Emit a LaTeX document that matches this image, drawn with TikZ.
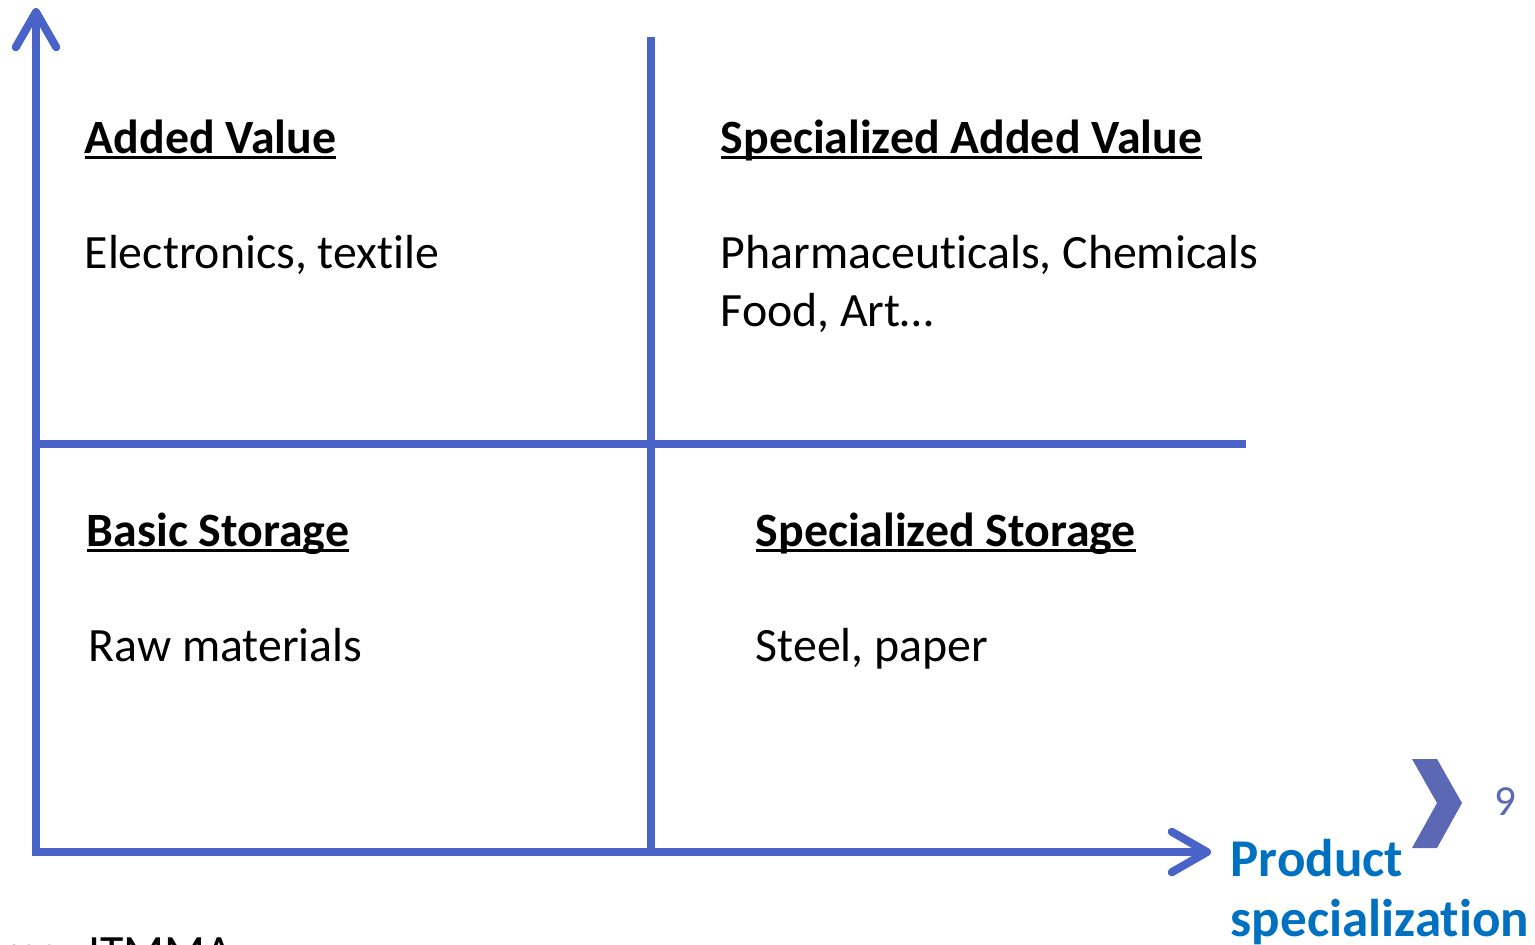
\documentclass[tikz,border=0pt]{standalone}
\usepackage{fontspec}
\setmainfont{Carlito}[Ligatures={NoCommon,NoContextual,NoRare}]
\usepackage{tikz}
\usetikzlibrary{positioning}
\usetikzlibrary{arrows.meta}

\definecolor{axisblue}{HTML}{4A63C8}
\definecolor{labelblue}{HTML}{0070C0}
\definecolor{pageblue}{HTML}{5B69B4}

\newcommand{\titleline}[1]{\setbox0\hbox{#1}\rlap{\rule[-1.6pt]{\wd0}{0.85pt}}#1}
\newcommand{\ti}{t\kern0pt i}

\tikzset{
  axis/.style = {draw = axisblue, line width = 2.3pt},
  axisarrow/.style = {axis, -{Straight Barb[length = 10pt, width = 11.5pt, line cap = round, line join = round]}},
  quadtitle/.style = {draw = none, anchor = base west, inner sep = 0pt, font = \fontsize{13.6}{16}\selectfont\bfseries},
  quadtext/.style = {draw = none, anchor = base west, inner sep = 0pt, font = \fontsize{13.6}{16}\selectfont},
  axislabel/.style = {draw = none, anchor = base west, inner sep = 0pt, text = labelblue, font = \fontsize{15.1}{18}\selectfont\bfseries}
}

\begin{document}
\begin{tikzpicture}[x = 0.01cm, y = -0.01cm]
    \useasboundingbox (0,0) rectangle (1535,944);
    \clip (0,0) rectangle (1535,944);

    \coordinate (origin) at (36,852) ;
    \coordinate (ytip) at (36,8) ;
    \coordinate (xtip) at (1211,852) ;
    \coordinate (midtop) at (651,37) ;
    \coordinate (midbottom) at (651,852) ;
    \coordinate (hleft) at (40,444) ;
    \coordinate (hright) at (1246,444) ;

    \draw[axis] (midtop) -- (midbottom) ;
    \draw[axis] (hleft) -- (hright) ;
    \draw[axisarrow] (origin) -- (ytip) ;
    \draw[axisarrow] ([xshift = -1.1pt]origin) -- (xtip) ;

    \node[quadtitle] at (84,153) (addedtitle) {\titleline{Added Value}} ;
    \node[quadtext] at (84,268) (addedtext) {Electronics, tex\ti le} ;
    \node[quadtitle] at (720,153) (specaddedtitle) {\titleline{Specialized Added Value}} ;
    \node[quadtext] at (720,268) (specaddedtext) {Pharmaceu\ti cals, Chemicals} ;
    \node[quadtext] at (720,326) (specaddedtext2) {Food, Art…} ;
    \node[quadtitle] at (86,546) (basictitle) {\titleline{Basic Storage}} ;
    \node[quadtext] at (88,661) (basictext) {Raw materials} ;
    \node[quadtitle] at (755,546) (specstoretitle) {\titleline{Specialized Storage}} ;
    \node[quadtext] at (755,661) (specstoretext) {Steel, paper} ;

    \node[axislabel] at (1230,876) (xlabel) {Product} ;
    \node[axislabel] at (1230,936) (xlabel2) {specializa\ti on} ;

    \fill[pageblue] (1412,759) -- (1437,759) -- (1462,803) -- (1437,848) -- (1412,848) -- (1437,803) -- cycle ;
    \node[draw = none, anchor = base west, inner sep = 0pt, text = pageblue, font = \fontsize{12.2}{14}\selectfont] at (1494,815) (pagenum) {9} ;

    \node[draw = none, anchor = base east, inner sep = 0pt, font = \fontsize{13.6}{16}\selectfont] at (234,968) (source) {Source: ITMMA} ;
\end{tikzpicture}
\end{document}
